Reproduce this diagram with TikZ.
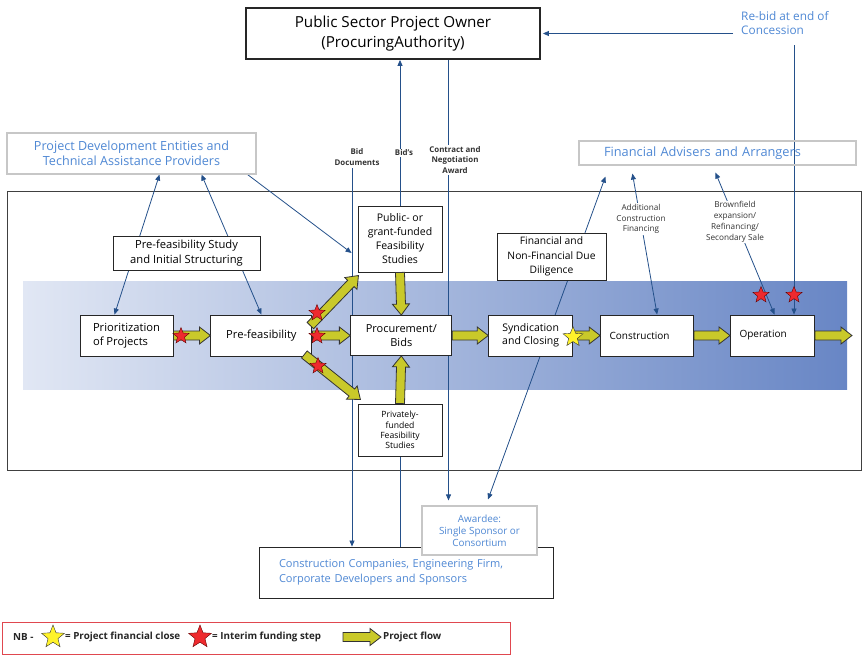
\documentclass[tikz,border=0pt]{standalone}
\usepackage{fontspec}
\setmainfont{Open Sans}
\usepackage{tikz}
\usetikzlibrary{positioning,calc,arrows.meta,shapes.geometric}

\definecolor{linkblue}{HTML}{24508A}
\definecolor{textblue}{HTML}{4F88D4}
\definecolor{flowyellow}{HTML}{C9C92A}
\definecolor{starred}{HTML}{EE2A2E}
\definecolor{staryellow}{HTML}{FFF32A}
\definecolor{bandleft}{HTML}{E1E7F4}
\definecolor{bandright}{HTML}{6886C5}
\definecolor{legendred}{HTML}{E0474F}

\pgfdeclarelayer{back}
\pgfdeclarelayer{mid}
\pgfsetlayers{back,mid,main}

% block arrow of the project flow, from #1 to #2
\newcommand{\flowarrow}[2]{%
  \path let \p1=(#1), \p2=(#2) in \pgfextra{%
    \pgfmathsetmacro\fax{\x1}\pgfmathsetmacro\fay{\y1}%
    \pgfmathsetmacro\faang{atan2(\y2-\y1,\x2-\x1)}%
    \pgfmathsetmacro\falen{veclen(\x2-\x1,\y2-\y1)}%
    \xdef\flowx{\fax}\xdef\flowy{\fay}\xdef\flowang{\faang}\xdef\flowlen{\falen}};
  \draw[flow, shift={(\flowx pt,\flowy pt)}, rotate=\flowang]
    (0pt,-4.5pt) -- ({\flowlen pt-11pt},-4.5pt) -- ({\flowlen pt-11pt},-8.5pt)
    -- (\flowlen pt,0pt) -- ({\flowlen pt-11pt},8.5pt) -- ({\flowlen pt-11pt},4.5pt)
    -- (0pt,4.5pt) -- cycle;}

\begin{document}
\begin{tikzpicture}[
        x=1pt, y=-1pt,
        box/.style    = {draw=black!85, line width=0.9pt, fill=white, align=center,
                         inner sep=2pt, font=\fontsize{11.2}{14.5}\selectfont},
        party/.style  = {draw=black!22, line width=1.1pt, align=center, text=textblue,
                         inner sep=2pt},
        note/.style   = {fill=white, align=center, inner sep=1pt, text=black!80,
                         font=\bfseries\fontsize{7.9}{10.5}\selectfont},
        aside/.style  = {fill=white, align=center, inner sep=1pt, text=black!80,
                         font=\fontsize{8.2}{10.8}\selectfont},
        link/.style   = {draw=linkblue, line width=0.8pt, >={Triangle[length=6pt,width=5pt]}},
        flow/.style   = {fill=flowyellow, draw=black!80, line width=0.8pt},
        redstar/.style    = {star, star points=5, star point ratio=2.3, inner sep=0pt,
                             minimum size=17pt, fill=starred, draw=red!40!black, line width=0.4pt},
        yellowstar/.style = {redstar, fill=staryellow, draw=black!80, minimum size=21pt},
        legendtext/.style = {inner sep=0pt, font=\bfseries\fontsize{9.8}{11}\selectfont, text=black!85},
        node distance = 36pt
    ]
    \useasboundingbox (0,0) rectangle (862,654);

    % parties round the project
    \node[box, line width=1.8pt, minimum width=294pt, minimum height=51pt,
          font=\fontsize{15.2}{20.5}\selectfont] (owner) at (393,33.5)
          {Public Sector Project Owner\\(ProcuringAuthority)};
    \node[anchor=north west, align=left, inner sep=0pt, text=textblue,
          font=\fontsize{11.8}{14}\selectfont] (rebid) at (741,11) {Re-bid at end of\\Concession};
    \node[party, fill=white, minimum width=249pt, minimum height=41pt,
          font=\fontsize{12.6}{15}\selectfont] (pdev) at (131.5,153.5)
          {Project Development Entities and\\Technical Assistance Providers};
    \node[party, align=left, text width=227pt, inner xsep=25pt, minimum height=24pt,
          font=\fontsize{12.8}{15}\selectfont] (fadv) at (717.5,153) {Financial Advisers and Arrangers};

    % stages
    \node[box, minimum width=147pt, minimum height=34pt] (study) at (186.5,253)
          {Pre-feasibility Study\\and Initial Structuring};
    \node[box, align=left, minimum width=93pt, minimum height=41pt] (prio) at (126.5,335.5)
          {Prioritization\\of Projects};
    \node[box, minimum width=101pt, minimum height=41pt, right=37pt of prio] (prefeas) {Pre-feasibility};
    \node[box, minimum width=101pt, minimum height=40pt, right=38pt of prefeas,
          font=\fontsize{11}{14}\selectfont] (proc) {Procurement/\\Bids};
    \node[box, minimum width=84pt, minimum height=41pt, right=36pt of proc,
          font=\fontsize{10.5}{12.5}\selectfont] (synd) {Syndication\\and Closing};
    \node[box, align=left, text width=75pt, inner xsep=9pt, minimum height=41pt, right=27pt of synd,
          font=\fontsize{10}{12}\selectfont] (constr) {Construction};
    \node[box, align=left, text width=66pt, inner xsep=9pt, minimum height=41pt, right=36pt of constr,
          font=\fontsize{10}{12}\selectfont] (oper) {Operation};
    \node[box, minimum width=84pt, minimum height=66pt,
          font=\fontsize{10.5}{14}\selectfont] (pubfs) at (400,239)
          {Public- or\\grant-funded\\Feasibility\\Studies};
    \node[box, minimum width=84pt, minimum height=52pt,
          font=\fontsize{8.6}{10.4}\selectfont] (privfs) at (400,430)
          {Privately-\\funded\\Feasibility\\Studies};
    \node[box, minimum width=109pt, minimum height=47pt,
          font=\fontsize{10.3}{14.5}\selectfont] (dd) at (551.5,256.5)
          {Financial and\\Non-Financial Due\\Diligence};

    % bidders
    \node[box, align=left, text=textblue, text width=254pt, inner xsep=20pt,
          minimum height=51pt, font=\fontsize{11}{14.5}\selectfont] (builders) at (406,572.5)
          {Construction Companies, Engineering Firm,\\Corporate Developers and Sponsors};
    \node[party, fill=white, minimum width=115pt, minimum height=49pt,
          font=\fontsize{9.9}{12}\selectfont] (awardee) at (479.5,530.5)
          {Awardee:\\Single Sponsor or\\Consortium};

    % labels on the links
    \node[note] (biddocs) at (357,157) {Bid\\Documents};
    \node[note] (bids) at (404,153) {Bid's};
    \node[note] (contract) at (455,160) {Contract and\\Negotiation\\Award};
    \node[aside] (addfin) at (641,219) {Additional\\Construction\\Financing};
    \node[aside] (brown) at (735,222) {Brownfield\\expansion/\\Refinancing/\\Secondary Sale};

    \coordinate (docs)   at (352,168);
    \coordinate (award)  at ([xshift=55.5pt]owner.south);
    \coordinate (ddlow)  at ([shift={(8.5,-6)}]awardee.north);
    \coordinate (ddhigh) at ([shift={(27,11)}]fadv.south west);
    \coordinate (rebidx) at ([shift={(53,34)}]rebid.north west);

    \begin{pgfonlayer}{back}
        \shade[left color=bandleft, right color=bandright] (23,281) rectangle (847,389);
        \draw[black!75, line width=1pt] (7,191) rectangle (861,470);
    \end{pgfonlayer}

    \begin{pgfonlayer}{mid}
        \draw[link,<->] ([xshift=-12pt]prio.north) -- ([xshift=28pt]pdev.south);
        \draw[link,<->] (prefeas.north) -- ([xshift=70pt]pdev.south);
        \draw[link,->] ([xshift=-9pt]pdev.south east) -- ([shift={(-6,14)}]pubfs.west);
        \draw[link,->] (docs) -- (docs |- builders.north);
        \draw[link,->] (pubfs.north) -- (pubfs.north |- owner.south);
        \draw[link,->, shorten >=5pt] (award) -- (award |- awardee.north);
        \draw[link] (privfs.south) -- (privfs.south |- builders.north);
        \draw[link,<->] (ddlow) -- (ddhigh);
        \draw[link,<->] ([shift={(54,8)}]fadv.south west) -- ([xshift=10pt]constr.north);
        \draw[link,<->] ([shift={(137,7)}]fadv.south west) -- ([xshift=2pt]oper.north);
        \draw[link,->, shorten >=2pt] ([xshift=-8pt]rebid.west |- owner.east) -- (owner.east);
        \draw[link,->] (rebidx) -- (rebidx |- oper.north);
    \end{pgfonlayer}

    % project flow
    \flowarrow{prio.east}{prefeas.west}
    \flowarrow{prefeas.east}{proc.west}
    \flowarrow{[shift={(-2,11)}]prefeas.north east}{[shift={(1,3)}]pubfs.south west}
    \flowarrow{[shift={(-8,-2)}]prefeas.south east}{[shift={(3,-4)}]privfs.north west}
    \flowarrow{pubfs.south}{proc.north}
    \flowarrow{privfs.north}{proc.south}
    \flowarrow{proc.east}{synd.west}
    \flowarrow{synd.east}{constr.west}
    \flowarrow{constr.east}{oper.west}
    \flowarrow{oper.east}{[xshift=37pt]oper.east}

    % funding steps
    \node[redstar] (st1) at (181,336) {};
    \node[redstar] (st2) at (317,313) {};
    \node[redstar] (st3) at (317,336) {};
    \node[redstar] (st4) at (318,366) {};
    \node[redstar] (st5) at (761,295) {};
    \node[redstar] (st6) at (794,295) {};
    \node[yellowstar] (close) at (573,337) {};

    % legend
    \node[draw=legendred, line width=0.8pt, minimum width=508pt, minimum height=32pt,
          inner sep=0pt] (legend) at (256,638) {};
    \node[legendtext, anchor=west] (nb) at (13,637) {NB -};
    \node[yellowstar, minimum size=24pt] (lclose) at (53,637) {};
    \node[legendtext, anchor=west] (lclosetxt) at (65,637) {= Project financial close};
    \node[redstar, minimum size=24pt] (lstep) at (200,637) {};
    \node[legendtext, anchor=west] (lsteptxt) at (212,637) {= Interim funding step};
    \coordinate (lflow) at (343,637);
    \flowarrow{lflow}{[xshift=38pt]lflow}
    \node[legendtext, anchor=west] (lflowtxt) at (383,637) {Project flow};
\end{tikzpicture}
\end{document}
